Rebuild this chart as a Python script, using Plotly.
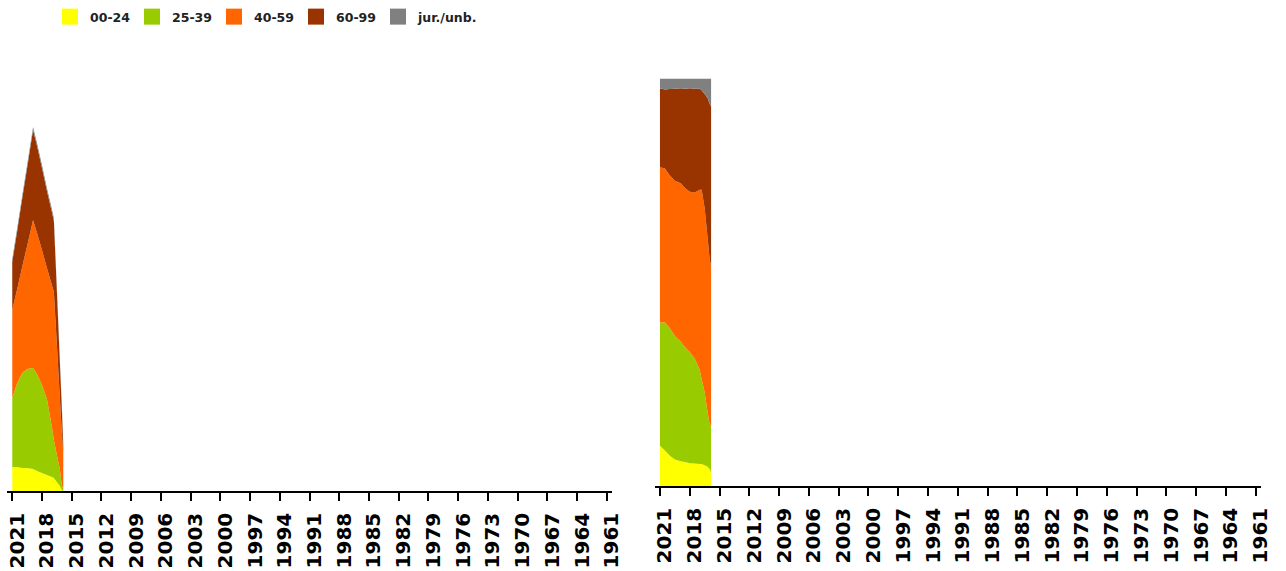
import plotly.graph_objects as go

# ---------------- data ----------------
years = [2021.0, 2020.5, 2020.0, 2019.5, 2018.9, 2018.5, 2018.0, 2017.5,
         2017.0, 2016.8, 2016.5, 2016.2, 2016.0, 2015.85]

series_names = ["00-24", "25-39", "40-59", "60-99", "jur./unb."]
colors = ["#FFFF00", "#99CC00", "#FF6600", "#993300", "#808080"]

# absolute values (left panel, relative units)
abs_00_24 = [24, 24, 23, 23, 22, 20, 18, 16, 14, 13, 9, 5, 1, 0]
abs_25_39 = [69, 84, 95, 99, 101, 97, 88, 76, 50, 38, 27, 17, 5, 2]
abs_40_59 = [88, 94, 106, 123, 148, 141, 135, 131, 142, 148, 111, 72, 53, 37]
abs_60_99 = [48, 58, 68, 78, 90, 87, 82, 77, 73, 71, 54, 36, 24, 6]
abs_jur = [3, 3, 3, 3, 3, 3, 3, 3, 3, 3, 3, 3, 3, 3]

# shares in percent (right panel)
pct_00_24 = [9.9, 8.7, 7.4, 6.5, 6.1, 5.9, 5.6, 5.5, 5.4, 5.4, 5.1, 4.7, 4.2, 3.3]
pct_25_39 = [30.2, 31.4, 31.3, 30.3, 29.3, 28.2, 27.3, 25.8, 23.1, 20.8, 17.9, 13.4, 11.0, 11.5]
pct_40_59 = [38.1, 37.8, 37.5, 38.1, 38.9, 39.1, 39.3, 40.7, 44.2, 46.5, 45.2, 42.8, 40.6, 39.1]
pct_60_99 = [19.4, 19.4, 21.2, 22.6, 23.3, 24.3, 25.4, 25.5, 24.8, 24.4, 28.0, 34.3, 38.0, 39.3]
pct_jur = [2.4, 2.7, 2.6, 2.5, 2.4, 2.5, 2.4, 2.5, 2.5, 2.9, 3.8, 4.8, 6.2, 6.8]

tick_years = list(range(2021, 1960, -3))

abs_series = [abs_00_24, abs_25_39, abs_40_59, abs_60_99, abs_jur]
pct_series = [pct_00_24, pct_25_39, pct_40_59, pct_60_99, pct_jur]

# ---------------- figure ----------------
fig = go.Figure()

for name, col, vals in zip(series_names, colors, abs_series):
    fig.add_trace(go.Scatter(
        x=years, y=vals, name=name, stackgroup="abs", mode="none",
        fillcolor=col, line=dict(width=0), showlegend=False,
        xaxis="x", yaxis="y"))

for name, col, vals in zip(series_names, colors, pct_series):
    fig.add_trace(go.Scatter(
        x=years, y=vals, name=name, stackgroup="pct", groupnorm="percent",
        mode="none", fillcolor=col, line=dict(width=0), showlegend=False,
        xaxis="x2", yaxis="y2"))

# legend entries
for name, col in zip(series_names, colors):
    fig.add_trace(go.Scatter(
        x=[None], y=[None], name=name, mode="markers",
        marker=dict(symbol="square", size=16, color=col, line=dict(width=0)),
        xaxis="x", yaxis="y", showlegend=True))
# spacer entry so that the last legend label is not clipped
fig.add_trace(go.Scatter(
    x=[None], y=[None], name=" ", mode="markers",
    marker=dict(symbol="square", size=1, color="rgba(0,0,0,0)"),
    xaxis="x", yaxis="y", showlegend=True, hoverinfo="skip"))

W, H = 1286, 571

def xdom(a, b):
    return [a / W, b / W]

def ydom(bottom, top):
    return [(H - bottom) / H, (H - top) / H]

xaxis_common = dict(
    range=[2021.5, 1960.5],
    tickmode="array", tickvals=tick_years, ticktext=[str(t) for t in tick_years],
    tickangle=-90, ticks="outside", ticklen=8, tickwidth=1.5, tickcolor="#000",
    showline=True, linecolor="#000", linewidth=1.5,
    showgrid=False, zeroline=False,
    tickfont=dict(family="DejaVu Sans", size=20, color="#000", weight="bold"),
    ticklabelstandoff=4, ticklabelshift=-5, ticklabeloverflow="allow",
    automargin=False, fixedrange=True,
)

fig.update_layout(
    template="none",
    width=W, height=H,
    margin=dict(l=0, r=0, t=0, b=0, autoexpand=False),
    paper_bgcolor="white", plot_bgcolor="white",
    xaxis=dict(domain=xdom(7.3, 611.7), anchor="y", **xaxis_common),
    yaxis=dict(domain=ydom(491, 78), range=[0, 413], visible=False,
               showgrid=False, zeroline=False, anchor="x", fixedrange=True),
    xaxis2=dict(domain=xdom(655, 1260.6), anchor="y2", **xaxis_common),
    yaxis2=dict(domain=ydom(486, 78.5), range=[0, 100], visible=False,
                showgrid=False, zeroline=False, anchor="x2", fixedrange=True),
    showlegend=True,
    hovermode=False,
    legend=dict(
        orientation="h", x=50 / W, y=1 - 2 / H, xanchor="left", yanchor="top",
        font=dict(family="DejaVu Sans", size=12.5, color="#222", weight="bold"),
        entrywidth=37, entrywidthmode="pixels", itemsizing="trace",
        bgcolor="rgba(0,0,0,0)", borderwidth=0, traceorder="normal",
    ),
)

# remove the default 8px page margin so the figure fills the window exactly
fig.write_html(
    "out.html",
    config={"displayModeBar": False},
    post_script="document.body.style.margin='0px';document.body.style.overflow='hidden';",
)
